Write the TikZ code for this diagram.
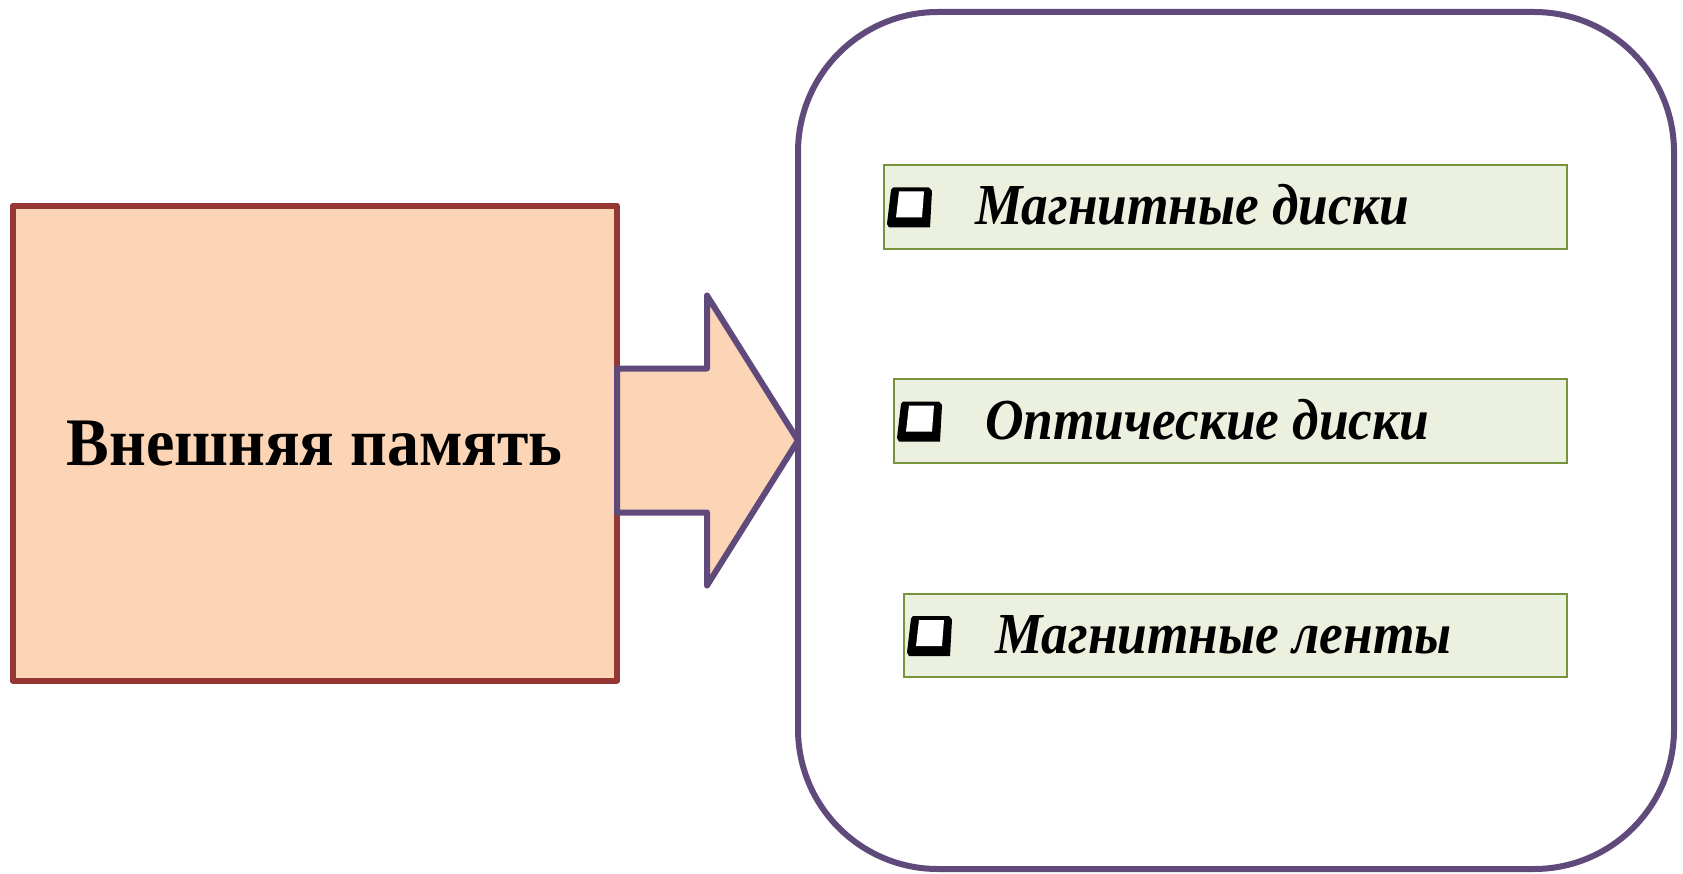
\documentclass[tikz,border=0pt]{standalone}
\usepackage{fontspec}
\setmainfont{Liberation Serif}
\newfontfamily\itemfont[FakeStretch=0.92]{Liberation Serif}
\newfontfamily\headfont[FakeStretch=0.94]{Liberation Serif}
\usetikzlibrary{calc}
\definecolor{peach}{HTML}{FBD5B5}
\definecolor{brick}{HTML}{953735}
\definecolor{purp}{HTML}{604A7B}
\definecolor{leaf}{HTML}{EBF1DE}
\definecolor{leafline}{HTML}{77933C}
\tikzset{
  every node/.style={outer sep=0pt},
  srcbox/.style={draw=brick, fill=peach, line width=6pt, line join=round, inner sep=0pt,
    font=\headfont\bfseries\fontsize{68}{80}\selectfont},
  groupbox/.style={draw=purp, fill=white, line width=6pt, rounded corners=140pt, inner sep=0pt},
  arrowshape/.style={draw=purp, fill=peach, line width=6pt, line join=round},
  itembox/.style={draw=leafline, fill=leaf, line width=2pt, inner sep=0pt, anchor=north west},
  itemtext/.style={inner sep=0pt, anchor=base west, font=\itemfont\bfseries\itshape\fontsize{58}{70}\selectfont},
  sqbullet/.pic={
    \fill[black] (9,-19.5) -- (45,-19.5) -- (48,-16) -- (46,20.5) -- (5,20.5) -- (3,17) -- (7,-17) -- cycle;
    \fill[white] (15,-15.5) -- (40,-15.5) -- (38,10.5) -- (12,10.5) -- cycle;
  }
}
\begin{document}
\begin{tikzpicture}[x=1pt,y=-1pt]
\useasboundingbox (0,0) rectangle (1683,874);
\node[srcbox, anchor=north west, minimum width=604.5pt, minimum height=474.5pt] (lb) at (12.5,206) {Внешняя память};
\node[groupbox, anchor=north west, minimum width=876pt, minimum height=857pt] (grp) at (798,12) {};
\coordinate (tip) at (grp.west);
\coordinate (base) at (lb.east|-tip);
\draw[arrowshape] ($(base)+(0,-72)$) -- ++(90,0) -- ++(0,-73) -- (tip) -- ($(base)+(90,145)$) -- ++(0,-73) -- ($(base)+(0,72)$) -- cycle;
\node[itembox, minimum width=683pt, minimum height=84pt] (m1) at (884,165) {};
\node[itembox, minimum width=673pt, minimum height=84pt] (m2) at (894,379) {};
\node[itembox, minimum width=663pt, minimum height=83pt] (m3) at (904,594) {};
\pic at (m1.west) {sqbullet};
\pic at (m2.west) {sqbullet};
\pic at (m3.west) {sqbullet};
\node[itemtext] (t1) at ([shift={(91,17.5)}]m1.west) {Магнитные диски};
\node[itemtext] (t2) at ([shift={(91,18)}]m2.west) {Оптические диски};
\node[itemtext] (t3) at ([shift={(91,18)}]m3.west) {Магнитные ленты};
\end{tikzpicture}
\end{document}
